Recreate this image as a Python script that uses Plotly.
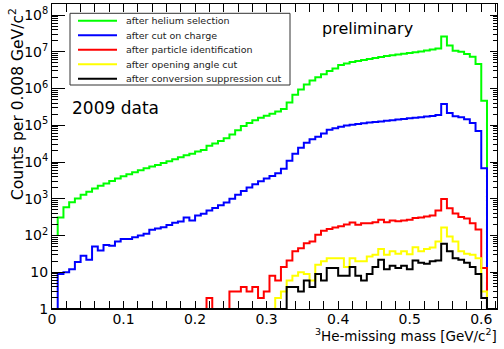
import numpy as np
import plotly.graph_objects as go

# 3He-missing mass histograms, 0.008 GeV/c^2 bins from 0 to 0.624
bin_width = 0.008
n_bins = 78

# after helium selection (bins 1..75)
helium = [308, 592, 809, 1012, 1276, 1542, 1892, 2244, 2588, 3062,
          3540, 4111, 4656, 5284, 5984, 6792, 7499, 8337, 9462, 10520,
          11910, 13490, 15310, 16900, 19190, 21330, 27700, 32000, 37400, 44600,
          55900, 73100, 95100, 115600, 135900, 159900, 182400, 206600, 235600, 277300,
          416600, 674000, 946000, 1285000, 1650000, 2014000, 2461000, 2991000, 3518000, 4353000,
          4777000, 5248000, 5585000, 5943000, 6336000, 6745000, 7178000, 7638000, 7980000, 8395000,
          8830000, 9225000, 9690000, 10250000, 10790000, 11490000, 12370000, 26200000, 14740000, 10650000,
          10000000, 8663000, 7310000, 4632000, 466000]

# after cut on charge (bins 1..75)
charge = [9, 10, 12, 19, 28, 22, 50, 39, 55, 53,
          69, 80, 80, 90, 100, 111, 143, 155, 169, 192,
          221, 240, 308, 256, 349, 389, 481, 559, 662, 793,
          994, 1285, 1629, 2028, 2495, 3007, 3540, 4140, 4963, 6535,
          10840, 16700, 24600, 33450, 41900, 48400, 59800, 75500, 82400, 91600,
          98200, 103200, 108400, 113300, 118400, 122900, 127600, 132500, 137600, 142900,
          148400, 154100, 159900, 166000, 172300, 178900, 190500, 379300, 216000, 175600,
          165000, 145600, 115500, 70000, 6790]

# after particle identification (bins 0..77)
pid = [0] * 27 + [2, 0, 0, 0, 3, 3, 4, 3, 4, 2, 3, 8, 6,
       14, 21, 37, 45, 62, 69, 105, 134, 150, 165,
       180, 200, 226, 195, 217, 217, 231, 268, 231, 256,
       245, 256, 268, 298, 309, 330, 350, 478, 980, 556,
       400, 320, 290, 217, 145, 13, 0, 0]

# after opening angle cut (bins 0..77)
angle = [0] * 39 + [2,
         3, 6, 8, 10, 9, 6, 16, 20, 24, 24,
         24, 14, 24, 20, 20, 27, 30, 43, 30, 37,
         32, 37, 31, 48, 37, 43, 47, 69, 165, 94,
         69, 37, 32, 30, 24, 3, 0, 0]

# after conversion suppression cut (bins 0..77)
conversion = [0] * 41 + [4, 4, 3, 6, 4, 9, 6, 13, 13,
              8, 8, 14, 8, 6, 9, 14, 22, 12, 15,
              13, 15, 12, 21, 18, 17, 20, 21, 60, 37,
              24, 22, 18, 14, 9, 2, 0, 0]

series_names = ["after helium selection", "after cut on charge",
                "after particle identification", "after opening angle cut",
                "after conversion suppression cut"]
series_colors = ["#00ff00", "#0000ff", "#ff0000", "#ffff00", "#000000"]

y_tick_vals = [1, 10, 100, 1e3, 1e4, 1e5, 1e6, 1e7, 1e8]
y_tick_text = ["1", "10"] + ["10<sup>%d</sup>" % k for k in range(2, 9)]

edges = np.round(np.arange(n_bins + 1) * bin_width, 4)

# plot-area geometry in pixels
W, H = 504, 349
L, R, T, B = 52, 7, 4, 40
PW, PH = W - L - R, H - T - B


def px2x(px):
    return (px - L) / PW


def py2y(py):
    return (H - B - py) / PH


def step_xy(first_bin, values, base=None, floor=1.0):
    """Outline of a histogram drawn bin by bin (ROOT-like step line)."""
    vals = [max(v, floor) for v in values]
    lo = edges[first_bin]
    xs = list(edges[first_bin:first_bin + len(vals)]) + [edges[first_bin + len(vals)]]
    ys = vals + [vals[-1]]
    if base is not None:
        xs = [lo] + xs + [xs[-1]]
        ys = [base] + ys + [base]
    return xs, ys


fig = go.Figure()
traces = [
    step_xy(1, helium, base=100),
    step_xy(1, charge, base=1),
    step_xy(0, pid),
    step_xy(0, angle),
    step_xy(0, conversion),
]
for (xs, ys), name, col in zip(traces, series_names, series_colors):
    fig.add_trace(go.Scatter(x=xs, y=ys, mode="lines", name=name,
                             line=dict(color=col, width=2, shape="hv"),
                             showlegend=False, hoverinfo="skip"))

# invisible trace to anchor right-hand ticks
fig.add_trace(go.Scatter(x=[0.1], y=[10], yaxis="y2", mode="markers",
                         marker=dict(opacity=0), showlegend=False, hoverinfo="skip"))

font_family = "DejaVu Sans"
y_minor = [m * 10 ** k for k in range(0, 9) for m in range(2, 10) if m * 10 ** k < 1.99e8]

fig.update_layout(
    width=W, height=H, autosize=False,
    margin=dict(l=L, r=R, t=T, b=B, pad=0),
    paper_bgcolor="white", plot_bgcolor="white",
    font=dict(family=font_family, color="black", size=14),
    xaxis=dict(range=[0, 0.622], showgrid=False, zeroline=False,
               showline=True, linecolor="black", linewidth=1, mirror="allticks",
               ticks="inside", ticklen=8, tickwidth=1, tickcolor="black",
               tick0=0, dtick=0.1, tickfont=dict(size=14), ticklabelstandoff=-3,
               minor=dict(ticks="inside", ticklen=4, dtick=0.02, tickcolor="black", showgrid=False)),
    yaxis=dict(type="log", range=[0, 8.3], showgrid=False, zeroline=False,
               showline=True, linecolor="black", linewidth=1, mirror=True,
               ticks="inside", ticklen=13, tickwidth=1, tickcolor="black",
               tickvals=y_tick_vals, ticktext=y_tick_text, tickfont=dict(size=14),
               minor=dict(ticks="inside", ticklen=6, tickvals=y_minor, tickcolor="black", showgrid=False)),
    yaxis2=dict(type="log", range=[0, 8.3], overlaying="y", side="right",
                showgrid=False, zeroline=False, showline=False,
                ticks="inside", ticklen=7, tickwidth=1, tickcolor="black",
                tickvals=y_tick_vals, showticklabels=False,
                minor=dict(ticks="inside", ticklen=4, tickvals=y_minor, tickcolor="black", showgrid=False)),
)

annotations = [
    dict(text="Counts per 0.008 GeV/c<sup>2</sup>", textangle=-90,
         x=px2x(16), y=py2y(6), xanchor="center", yanchor="top",
         font=dict(size=15.5)),
    dict(text="<sup>3</sup>He-missing mass [GeV/c<sup>2</sup>]",
         x=px2x(499), y=py2y(335), xanchor="right", yanchor="middle",
         font=dict(size=13.5)),
    dict(text="preliminary", x=px2x(367), y=py2y(29), xanchor="center", yanchor="middle",
         font=dict(size=16)),
    dict(text="2009 data", x=px2x(115), y=py2y(108), xanchor="center", yanchor="middle",
         font=dict(size=17)),
]

shapes = [dict(type="rect", xref="paper", yref="paper",
               x0=px2x(70), x1=px2x(290), y0=py2y(85), y1=py2y(13.3),
               line=dict(color="#333333", width=1), fillcolor="white", layer="above")]

row0, row_gap = 20.7, 14.5
for i, (name, col) in enumerate(zip(series_names, series_colors)):
    yy = py2y(row0 + i * row_gap)
    shapes.append(dict(type="line", xref="paper", yref="paper",
                       x0=px2x(78), x1=px2x(117), y0=yy, y1=yy,
                       line=dict(color=col, width=2), layer="above"))
    annotations.append(dict(text=name, x=px2x(124), y=yy, xanchor="left", yanchor="middle",
                            font=dict(size=9.5, color="#222222")))

for a in annotations:
    a.update(xref="paper", yref="paper", showarrow=False)

fig.update_layout(annotations=annotations, shapes=shapes)
fig.write_html("out.html")
